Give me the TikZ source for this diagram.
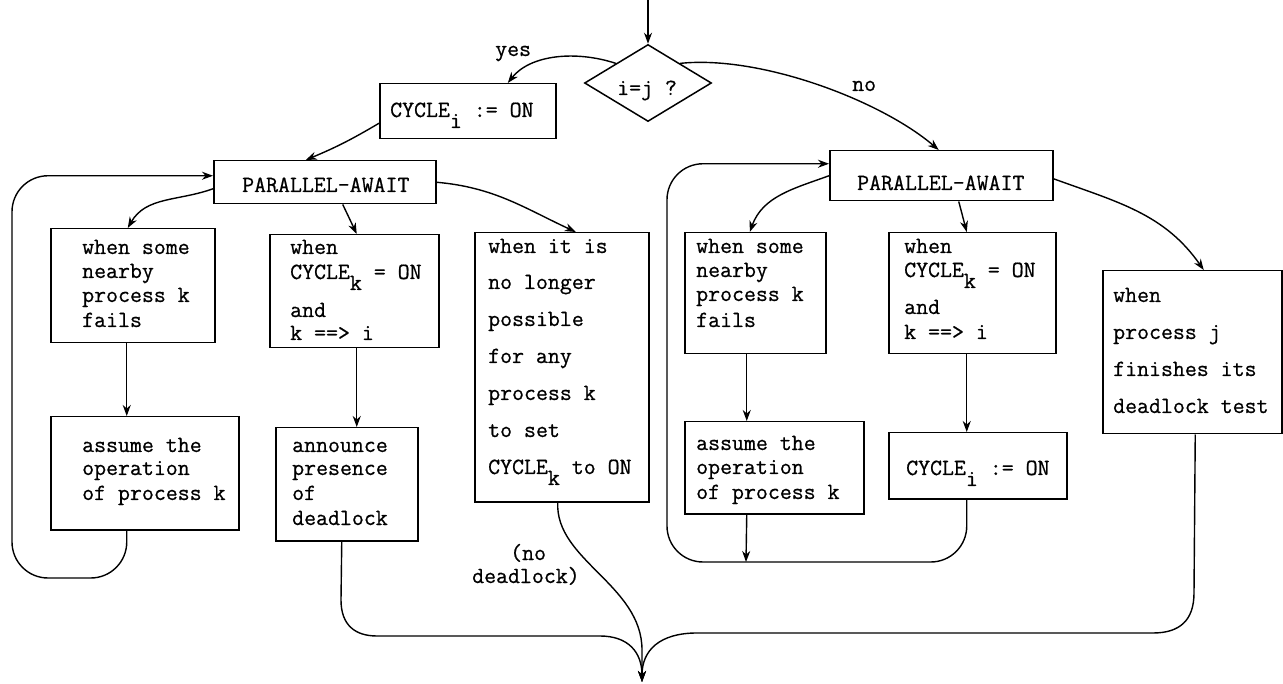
\documentclass[tikz,border=0pt]{standalone}
\usepackage{fontspec}
\setmonofont{Latin Modern Mono}[FakeBold=0.7]
\usetikzlibrary{arrows.meta,shapes.geometric}
\newcommand\dgfont{\fontsize{23.2}{28}\selectfont\ttfamily}
\newcommand\sbx[1]{\raisebox{-11pt}{#1}}
\tikzset{
 x=1pt,y=-1pt,
 box/.style={draw,line width=1.5pt,inner sep=0pt,anchor=north west},
 txt/.style={anchor=base west,inner sep=0pt,font=\dgfont},
 arr/.style={line width=1.4pt,-{Stealth[length=11pt,width=8pt,inset=3.5pt]}},
}
\begin{document}
\begin{tikzpicture}
\useasboundingbox (0,0) rectangle (1283,684);
% boxes
\node[draw,diamond,line width=1.5pt,minimum width=127pt,minimum height=77pt,inner sep=0pt,shape aspect=1.67] (D) at (648,83) {};
\node[box,minimum width=176pt,minimum height=55pt] (C1) at (379,83) {};
\node[box,minimum width=222pt,minimum height=43pt] (LP) at (213,160) {};
\node[box,minimum width=164pt,minimum height=114pt] (L1) at (50,228) {};
\node[box,minimum width=188pt,minimum height=113pt] (L2) at (50,416) {};
\node[box,minimum width=169pt,minimum height=113pt] (M1) at (269,234) {};
\node[box,minimum width=142pt,minimum height=113pt] (Ann) at (275,427) {};
\node[box,minimum width=174pt,minimum height=269pt] (M2) at (474,232) {};
\node[box,minimum width=223pt,minimum height=50pt] (RP) at (829,150) {};
\node[box,minimum width=141pt,minimum height=121pt] (R1) at (684,232) {};
\node[box,minimum width=167pt,minimum height=121pt] (R2) at (888,232) {};
\node[box,minimum width=179pt,minimum height=163pt] (R3) at (1102,270) {};
\node[box,minimum width=179pt,minimum height=92pt] (R4) at (684,421) {};
\node[box,minimum width=178pt,minimum height=66pt] (R5) at (888,432) {};
\coordinate (top) at (648,0);
\coordinate (E) at (642,682);
% texts
\node[txt] (tD) at (617,95) {i=j ?};
\node[txt] (tyes) at (495,56) {yes};
\node[txt] (tno) at (852,91) {no};
\node[txt] (tC1) at (390,117) {CYCLE\sbx{i} := ON};
\node[txt] (tLP) at (242,192) {PARALLEL-AWAIT};
\node[txt] (tRP) at (857,190) {PARALLEL-AWAIT};
\node[txt] (l1a) at (82,254) {when some};
\node[txt] (l1b) at (82,278) {nearby};
\node[txt] (l1c) at (82,302) {process k};
\node[txt] (l1d) at (82,327) {fails};
\node[txt] (m1a) at (290,254) {when};
\node[txt] (m1b) at (290,279) {CYCLE\sbx{k} = ON};
\node[txt] (m1c) at (290,317) {and};
\node[txt] (m1d) at (290,340) {k ==> i};
\node[txt] (m2a) at (488,253) {when it is};
\node[txt] (m2b) at (488,289) {no longer};
\node[txt] (m2c) at (488,326) {possible};
\node[txt] (m2d) at (488,363) {for any};
\node[txt] (m2e) at (488,400) {process k};
\node[txt] (m2f) at (488,437) {to set};
\node[txt] (m2g) at (488,474) {CYCLE\sbx{k} to ON};
\node[txt] (l2a) at (82,452) {assume the};
\node[txt] (l2b) at (82,475) {operation};
\node[txt] (l2c) at (82,500) {of process k};
\node[txt] (ana) at (292,452) {announce};
\node[txt] (anb) at (292,475) {presence};
\node[txt] (anc) at (292,500) {of};
\node[txt] (and) at (292,525) {deadlock};
\node[txt] (nd1) at (510,560) {(no};
\node[txt] (nd2) at (472,583) {deadlock)};
\node[txt] (r1a) at (696,253) {when some};
\node[txt] (r1b) at (696,277) {nearby};
\node[txt] (r1c) at (696,301) {process k};
\node[txt] (r1d) at (696,327) {fails};
\node[txt] (r2a) at (904,253) {when};
\node[txt] (r2b) at (904,277) {CYCLE\sbx{k} = ON};
\node[txt] (r2c) at (904,314) {and};
\node[txt] (r2d) at (904,339) {k ==> i};
\node[txt] (r3a) at (1113,302) {when};
\node[txt] (r3b) at (1113,339) {process j};
\node[txt] (r3c) at (1113,376) {finishes its};
\node[txt] (r3d) at (1113,413) {deadlock test};
\node[txt] (r4a) at (696,450) {assume the};
\node[txt] (r4b) at (696,474) {operation};
\node[txt] (r4c) at (696,499) {of process k};
\node[txt] (tR5) at (906,475) {CYCLE\sbx{i} := ON};
% connectors
\draw[arr] (top) -- (D.north);
\draw[arr] (D.north west) .. controls (575,50) and (530,55) .. ([xshift=40pt]C1.north);
\draw[arr] (D.north east) .. controls (760,55) and (880,100) .. ([xshift=-2.5pt]RP.north);
\draw[arr] ([yshift=-12pt]C1.west) to[bend left=4] ([xshift=-19pt]LP.north);
\draw[arr] ([yshift=-6.5pt]LP.west) to[out=200,in=60] ([xshift=-5pt]L1.north);
\draw[arr] ([xshift=18pt]LP.south) -- ([xshift=2.5pt]M1.north);
\draw[arr] (LP.east) to[out=-5,in=155] ([xshift=14pt]M2.north);
\draw[arr] ([xshift=-6pt]L1.south) -- ([xshift=-18pt]L2.north);
\draw[arr] ([xshift=2.5pt]M1.south) -- ([xshift=10pt]Ann.north);
\draw[arr,rounded corners=36pt] ([xshift=-18pt]L2.south) |- (12,578) |- ([yshift=6.5pt]LP.west);
\draw[arr] ([xshift=-5pt]Ann.south) -- (341,600) .. controls (341,625) and (355,636) .. (377,636) -- (600,636) .. controls (628,636) and (642,652) .. (E);
\draw[arr] ([xshift=-4pt]M2.south) .. controls (555,560) and (642,585) .. (642,650) -- (E);
% right half
\draw[arr] (RP.west) to[out=200,in=70] ([xshift=-5.5pt]R1.north);
\draw[arr] ([xshift=17.5pt]RP.south) -- ([xshift=-5.5pt]R2.north);
\draw[arr] ([yshift=-3pt]RP.east) to[out=-20,in=125] ([xshift=11.5pt]R3.north);
\draw[arr] ([xshift=-8.5pt]R1.south) -- ([xshift=-27.5pt]R4.north);
\draw[arr] ([xshift=-5.5pt]R2.south) -- ([xshift=-11pt]R5.north);
\coordinate (rb) at (746,562);
\draw[arr] ([xshift=-27.5pt]R4.south) -- (rb);
\draw[arr,rounded corners=36pt] ([xshift=-11pt]R5.south) |- (667,562) |- ([yshift=12pt]RP.west);
\draw[arr] ([xshift=3pt]R3.south) -- (1194,593) .. controls (1194,620) and (1180,633) .. (1153,633) -- (697,633) .. controls (660,633) and (642,650) .. (E);
\end{tikzpicture}
\end{document}
